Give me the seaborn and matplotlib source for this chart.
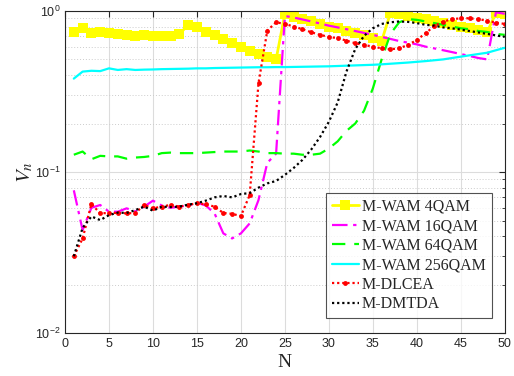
import numpy as np
import pandas as pd
import seaborn as sns
import matplotlib
matplotlib.use("Agg")
import matplotlib.pyplot as plt
from matplotlib.ticker import LogLocator, NullFormatter

N = list(range(1, 51))

wam_4qam = [0.744, 0.78, 0.733, 0.744, 0.73, 0.72, 0.713, 0.70, 0.71, 0.70,
            0.70, 0.70, 0.716, 0.82, 0.80, 0.744, 0.71, 0.67, 0.63, 0.60,
            0.567, 0.54, 0.52, 0.50, 0.96, 0.92, 0.89, 0.86, 0.83, 0.80,
            0.78, 0.75, 0.73, 0.71, 0.68, 0.65, 0.97, 0.95, 0.93, 0.91,
            0.89, 0.87, 0.84, 0.82, 0.80, 0.78, 0.76, 0.74, 0.97, 0.95]

wam_16qam = [0.077, 0.0436, 0.060, 0.0624, 0.0567, 0.0567, 0.0595, 0.057, 0.061, 0.0664,
             0.062, 0.060, 0.061, 0.062, 0.0645, 0.062, 0.0554, 0.0416, 0.0387, 0.0416,
             0.048, 0.067, 0.114, 0.13, 0.93, 0.91, 0.885, 0.86, 0.835, 0.81,
             0.79, 0.77, 0.75, 0.73, 0.71, 0.69, 0.67, 0.65, 0.635, 0.62,
             0.60, 0.585, 0.57, 0.555, 0.54, 0.525, 0.51, 0.50, 0.98, 0.96]

wam_64qam = [0.128, 0.134, 0.12, 0.126, 0.125, 0.125, 0.121, 0.123, 0.124, 0.126,
             0.131, 0.132, 0.131, 0.131, 0.131, 0.132, 0.133, 0.134, 0.134, 0.134,
             0.136, 0.134, 0.131, 0.131, 0.13, 0.13, 0.128, 0.128, 0.13, 0.14,
             0.155, 0.18, 0.20, 0.24, 0.33, 0.50, 0.72, 0.85, 0.89, 0.88,
             0.86, 0.84, 0.82, 0.80, 0.78, 0.77, 0.75, 0.74, 0.72, 0.71]

wam_256qam = [0.38, 0.42, 0.425, 0.423, 0.44, 0.43, 0.435, 0.43, 0.432, 0.433,
              0.435, 0.436, 0.437, 0.438, 0.44, 0.44, 0.442, 0.443, 0.444, 0.445,
              0.446, 0.447, 0.447, 0.448, 0.448, 0.449, 0.45, 0.451, 0.452, 0.453,
              0.455, 0.457, 0.459, 0.461, 0.463, 0.466, 0.47, 0.474, 0.478, 0.483,
              0.488, 0.494, 0.50, 0.51, 0.52, 0.53, 0.54, 0.55, 0.57, 0.59]

dlcea = [0.030, 0.0387, 0.0633, 0.0554, 0.0557, 0.0557, 0.0554, 0.0557, 0.0624, 0.0595,
         0.061, 0.0625, 0.061, 0.0625, 0.064, 0.063, 0.061, 0.0557, 0.055, 0.0533,
         0.072, 0.356, 0.755, 0.85, 0.83, 0.80, 0.77, 0.737, 0.71, 0.69,
         0.677, 0.654, 0.63, 0.615, 0.60, 0.586, 0.578, 0.586, 0.615, 0.66,
         0.727, 0.807, 0.858, 0.888, 0.90, 0.90, 0.888, 0.87, 0.846, 0.83]

dmtda = [0.030, 0.045, 0.053, 0.0503, 0.054, 0.056, 0.0557, 0.058, 0.061, 0.0575,
         0.061, 0.0606, 0.061, 0.0627, 0.064, 0.0664, 0.0696, 0.071, 0.0696, 0.073,
         0.074, 0.080, 0.085, 0.088, 0.096, 0.106, 0.119, 0.138, 0.165, 0.205,
         0.27, 0.42, 0.58, 0.70, 0.78, 0.83, 0.85, 0.86, 0.855, 0.84,
         0.82, 0.81, 0.79, 0.78, 0.765, 0.75, 0.735, 0.72, 0.705, 0.69]

labels = ["M-WAM 4QAM", "M-WAM 16QAM", "M-WAM 64QAM", "M-WAM 256QAM", "M-DLCEA", "M-DMTDA"]

sns.set_style("white")
plt.rcParams["font.family"] = ["Liberation Sans", "DejaVu Sans"]
plt.rcParams["mathtext.fontset"] = "stix"

fig = plt.figure(figsize=(5.14, 3.76), dpi=100)
ax = fig.add_axes([0.1265, 0.114, 0.8555, 0.857])

series = [wam_4qam, wam_16qam, wam_64qam, wam_256qam, dlcea, dmtda]
styles = [
    dict(color=(1, 1, 0), linestyle="-", linewidth=2.0, marker="s", markersize=6.5, markeredgewidth=0),
    dict(color=(1, 0, 1), linestyle=(0, (7, 2.5, 1.5, 2.5)), linewidth=1.6),
    dict(color=(0, 1, 0), linestyle=(0, (6, 4)), linewidth=1.6),
    dict(color=(0, 1, 1), linestyle="-", linewidth=1.6),
    dict(color=(1, 0, 0), linestyle=(0, (1, 1.3)), linewidth=1.6, marker="o", markersize=3.5, markeredgewidth=0),
    dict(color=(0, 0, 0), linestyle=(0, (1, 1.3)), linewidth=1.6),
]

for vals, lab, st in zip(series, labels, styles):
    df = pd.DataFrame({"N": N, "V": vals})
    sns.lineplot(data=df, x="N", y="V", ax=ax, label=lab, **st)

ax.set_yscale("log")
ax.set_xlim(0, 50)
ax.set_ylim(1e-2, 1e0)
ax.set_xticks(range(0, 51, 5))
ax.yaxis.set_major_locator(LogLocator(base=10, numticks=10))
ax.yaxis.set_minor_locator(LogLocator(base=10, subs=np.arange(2, 10), numticks=20))
ax.yaxis.set_minor_formatter(NullFormatter())

ax.grid(True, which="major", color="#dcdcdc", linewidth=0.8, linestyle="-")
ax.grid(True, which="minor", axis="y", color="#cccccc", linewidth=0.7, linestyle=(0, (1, 2)))
ax.set_axisbelow(True)

ax.tick_params(axis="both", which="both", direction="in", top=True, right=True,
               labelsize=9, colors="#262626")
ax.tick_params(axis="both", which="major", length=4)
ax.tick_params(axis="both", which="minor", length=2.5)
for s in ax.spines.values():
    s.set_color("#262626")
    s.set_linewidth(0.8)

ax.set_xlabel("N", fontsize=14, family="Liberation Serif", labelpad=3)
ax.set_ylabel("$V_n$", fontsize=15, labelpad=0)

leg = ax.legend(loc="lower right", bbox_to_anchor=(0.97, 0.047),
                prop={"family": "Liberation Serif", "size": 11.5},
                frameon=True, fancybox=False, edgecolor="#262626",
                handlelength=1.7, handletextpad=0.2, labelspacing=0.22,
                borderpad=0.35, borderaxespad=0)
leg.get_frame().set_linewidth(0.8)

fig.savefig("out.png", dpi=100)
